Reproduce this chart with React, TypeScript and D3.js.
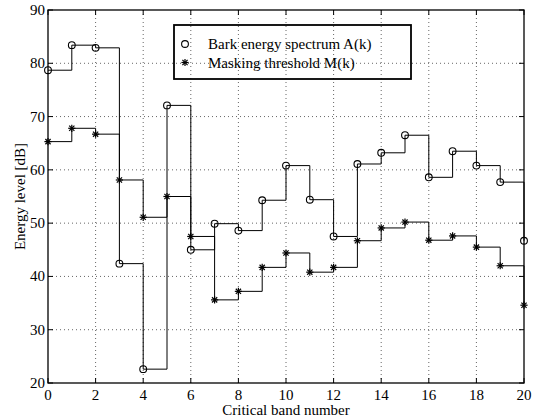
import React from "react";
import * as d3 from "d3";

const bands = d3.range(0, 21);
const barkEnergy = [78.7, 83.4, 82.9, 42.4, 22.6, 72.1, 45.0, 49.9, 48.6, 54.3, 60.8, 54.4, 47.5, 61.1, 63.2, 66.5, 58.6, 63.5, 60.8, 57.7, 46.7];
const maskingThreshold = [65.3, 67.8, 66.7, 58.1, 51.1, 55.0, 47.5, 35.6, 37.2, 41.7, 44.4, 40.8, 41.7, 46.7, 49.1, 50.2, 46.8, 47.6, 45.5, 42.0, 34.6];
const xTicks = [0, 2, 4, 6, 8, 10, 12, 14, 16, 18, 20];
const yTicks = [20, 30, 40, 50, 60, 70, 80, 90];
const legendLabels = ["Bark energy spectrum A(k)", "Masking threshold M(k)"];
const xLabel = "Critical band number";
const yLabel = "Energy level [dB]";

const W = 544, H = 419;
const L = 48, R = 524, T = 10, B = 383;
const FONT = "Liberation Serif, Times New Roman, serif";
const FS = 15;

function Star({ x, y }: { x: number; y: number }) {
  const s = 3.6;
  const d = 2.6;
  return (
    <g stroke="#000" strokeWidth={1.2}>
      <line x1={x - s} y1={y} x2={x + s} y2={y} />
      <line x1={x} y1={y - s} x2={x} y2={y + s} />
      <line x1={x - d} y1={y - d} x2={x + d} y2={y + d} />
      <line x1={x - d} y1={y + d} x2={x + d} y2={y - d} />
    </g>
  );
}

export default function App() {
  const x = d3.scaleLinear().domain([0, 20]).range([L, R]);
  const y = d3.scaleLinear().domain([20, 90]).range([B, T]);
  const line = d3
    .line<number>()
    .x((_, i) => x(bands[i]))
    .y((v) => y(v))
    .curve(d3.curveStepAfter);

  const tick = 5;
  return (
    <svg
      width={W}
      height={H}
      style={{ position: "absolute", left: 0, top: 0, background: "#fff", fontFamily: FONT }}
    >
      <rect x={0} y={0} width={W} height={H} fill="#fff" />
      {/* grid */}
      <g stroke="#666" strokeWidth={1} strokeDasharray="1 3">
        {xTicks.slice(1, -1).map((t) => (
          <line key={"gx" + t} x1={x(t)} x2={x(t)} y1={T} y2={B} />
        ))}
        {yTicks.slice(1, -1).map((t) => (
          <line key={"gy" + t} x1={L} x2={R} y1={y(t)} y2={y(t)} />
        ))}
      </g>
      {/* ticks */}
      <g stroke="#000" strokeWidth={1}>
        {xTicks.map((t) => (
          <g key={"tx" + t}>
            <line x1={x(t)} x2={x(t)} y1={B} y2={B - tick} />
            <line x1={x(t)} x2={x(t)} y1={T} y2={T + tick} />
          </g>
        ))}
        {yTicks.map((t) => (
          <g key={"ty" + t}>
            <line x1={L} x2={L + tick} y1={y(t)} y2={y(t)} />
            <line x1={R} x2={R - tick} y1={y(t)} y2={y(t)} />
          </g>
        ))}
      </g>
      {/* data lines */}
      <path d={line(barkEnergy) || ""} fill="none" stroke="#000" strokeWidth={1} />
      <path d={line(maskingThreshold) || ""} fill="none" stroke="#000" strokeWidth={1} />
      {barkEnergy.map((v, i) => (
        <circle key={"c" + i} cx={x(bands[i])} cy={y(v)} r={3.4} fill="none" stroke="#000" strokeWidth={1.1} />
      ))}
      {maskingThreshold.map((v, i) => (
        <Star key={"s" + i} x={x(bands[i])} y={y(v)} />
      ))}
      {/* axes box */}
      <rect x={L} y={T} width={R - L} height={B - T} fill="none" stroke="#000" strokeWidth={1.3} />
      {/* tick labels */}
      <g fontSize={FS} fill="#000" fontFamily={FONT}>
        {xTicks.map((t) => (
          <text key={"lx" + t} x={x(t)} y={B + 17} textAnchor="middle">
            {t}
          </text>
        ))}
        {yTicks.map((t) => (
          <text key={"ly" + t} x={L - 3} y={y(t) + 5} textAnchor="end">
            {t}
          </text>
        ))}
      </g>
      <text x={(L + R) / 2} y={415} textAnchor="middle" fontSize={FS} fontFamily={FONT}>
        {xLabel}
      </text>
      <text
        transform={`translate(25, ${(T + B) / 2}) rotate(-90)`}
        textAnchor="middle"
        fontSize={FS}
        fontFamily={FONT}
      >
        {yLabel}
      </text>
      {/* legend */}
      <rect x={174} y={25} width={237} height={54} fill="none" stroke="#000" strokeWidth={1.8} />
      <circle cx={185} cy={44} r={3.4} fill="none" stroke="#000" strokeWidth={1.1} />
      <Star x={185} y={62.5} />
      <text x={208} y={49} fontSize={FS} fontFamily={FONT}>{legendLabels[0]}</text>
      <text x={208} y={67.5} fontSize={FS} fontFamily={FONT}>{legendLabels[1]}</text>
    </svg>
  );
}
